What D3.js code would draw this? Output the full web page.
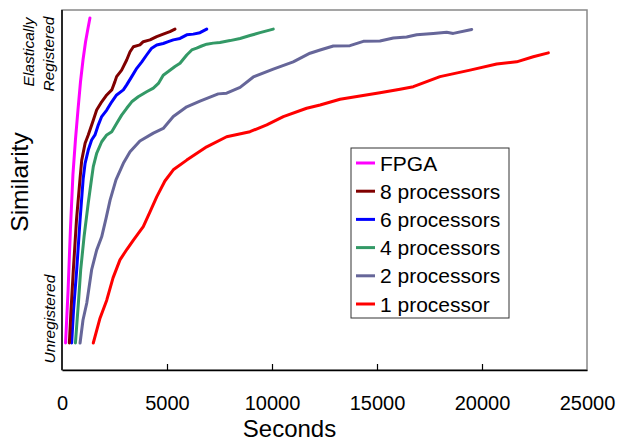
<!DOCTYPE html>
<html>
<head>
<meta charset="utf-8">
<script src="https://cdn.jsdelivr.net/npm/d3@7"></script>
<style>
  body { margin: 0; background: #fff; }
  text { font-family: "Liberation Sans", Arial, sans-serif; fill: #000; }
</style>
</head>
<body>
<svg width="618" height="443"></svg>
<script>
// Data: time in seconds, similarity on a 0-100 scale
let seriesNames = ["FPGA", "8 processors", "6 processors", "4 processors", "2 processors", "1 processor"];
let seriesColors = ["#ff00ff", "#800000", "#0000ff", "#339966", "#666699", "#ff0000"];

let fpgaT = [170, 290, 400, 520, 640, 760, 880, 1000, 1120, 1240, 1330];
let fpgaS = [7.5, 22.2, 38.9, 54.2, 63.9, 72.2, 80.0, 86.1, 91.1, 95.0, 97.8];

let p8T = [350, 430, 540, 690, 860, 940, 1100, 1250, 1490, 1650, 1890, 2130, 2370, 2520, 2600, 2840, 3080, 3240, 3400, 3710, 3870, 4190, 4510, 4820, 5140, 5380];
let p8S = [7.5, 16.7, 27.8, 41.7, 53.2, 58.3, 63.0, 65.3, 69.4, 72.2, 74.5, 76.4, 77.8, 80.1, 81.5, 83.3, 86.1, 88.4, 89.8, 90.3, 91.2, 91.7, 92.6, 93.3, 94.0, 94.7];

let p6T = [460, 550, 700, 860, 1010, 1100, 1250, 1410, 1570, 1730, 1890, 2130, 2370, 2600, 2920, 3080, 3320, 3560, 3800, 4030, 4270, 4510, 4820, 5060, 5300, 5620, 5940, 6250, 6570, 6890];
let p6S = [7.5, 16.7, 27.8, 41.7, 53.2, 57.4, 61.1, 63.9, 65.3, 68.1, 70.4, 72.2, 74.5, 76.4, 77.8, 79.2, 81.5, 83.8, 85.6, 87.5, 89.4, 90.3, 90.7, 91.2, 91.7, 92.1, 93.1, 93.3, 93.7, 94.7];

let p4T = [640, 780, 890, 1050, 1250, 1410, 1490, 1650, 1890, 2130, 2370, 2600, 2840, 3080, 3320, 3630, 4030, 4350, 4590, 4820, 5060, 5380, 5620, 5940, 6180, 6410, 6650, 6890, 7200, 7520, 8000, 8480, 8950, 9430, 10060];
let p4S = [7.5, 18.6, 27.8, 37.0, 46.4, 53.2, 56.5, 60.2, 63.4, 65.3, 66.2, 68.5, 70.8, 72.7, 74.5, 75.9, 77.3, 78.3, 79.6, 81.9, 82.9, 84.3, 85.2, 87.5, 88.9, 89.4, 90.0, 90.5, 90.8, 91.0, 91.5, 92.1, 92.9, 93.7, 94.7];

let p2T = [860, 1000, 1180, 1410, 1650, 1890, 2100, 2290, 2570, 2920, 3240, 3710, 4350, 4820, 5300, 5940, 6570, 7440, 7840, 8480, 9110, 10060, 11010, 11810, 12290, 12920, 13710, 14350, 15140, 15780, 16410, 16890, 17680, 18320, 18630, 19510];
let p2S = [7.5, 13.9, 18.6, 27.8, 33.3, 37.0, 42.2, 47.2, 52.8, 57.4, 60.6, 63.6, 65.8, 67.1, 70.4, 73.1, 74.7, 76.7, 76.9, 78.5, 81.4, 83.6, 85.6, 88.0, 88.9, 90.0, 90.1, 91.3, 91.4, 92.2, 92.5, 93.1, 93.5, 93.8, 93.5, 94.6];

let p1T = [1490, 1810, 2130, 2430, 2760, 3100, 3400, 3870, 4190, 4510, 4900, 5300, 5940, 6890, 7840, 8950, 9750, 10540, 11650, 12290, 13240, 14190, 15140, 16100, 16730, 18000, 19430, 20700, 21650, 22440, 23160];
let p1S = [7.5, 14.4, 19.4, 25.6, 30.6, 33.6, 36.1, 39.8, 43.9, 48.1, 52.5, 55.6, 58.3, 62.0, 64.8, 66.2, 68.1, 70.4, 72.7, 73.6, 75.2, 76.1, 77.0, 78.0, 78.7, 81.5, 83.3, 85.0, 85.6, 87.0, 88.1];

let xTicks = [0, 5000, 10000, 15000, 20000, 25000];

let seriesT = [fpgaT, p8T, p6T, p4T, p2T, p1T];
let seriesS = [fpgaS, p8S, p6S, p4S, p2S, p1S];

let svg = d3.select("svg");

let margin = { top: 10, right: 31, bottom: 73, left: 62 };
let width = +svg.attr("width") - margin.left - margin.right;
let height = +svg.attr("height") - margin.top - margin.bottom;

let g = svg.append("g")
  .attr("transform", "translate(" + margin.left + "," + margin.top + ")");

let x = d3.scaleLinear().domain([0, 25000]).range([0, width]);
let y = d3.scaleLinear().domain([0, 100]).range([height, 0]);

// gray frame (top and right)
g.append("rect")
  .attr("x", 0).attr("y", 0)
  .attr("width", width).attr("height", height)
  .attr("fill", "none")
  .attr("stroke", "#888")
  .attr("stroke-width", 1.5);

// x axis, ticks pointing inward
let xAxis = g.append("g")
  .attr("transform", "translate(0," + height + ")")
  .call(d3.axisBottom(x).tickValues(xTicks).tickSizeInner(-6).tickSizeOuter(0).tickPadding(26).tickFormat(d3.format("d")));
xAxis.select(".domain").attr("stroke", "#000").attr("stroke-width", 1.5);
xAxis.selectAll(".tick line").attr("stroke", "#000").attr("stroke-width", 1.2)
  .filter(d => d === 0 || d === 25000).remove();
xAxis.selectAll(".tick text").style("font-size", "20px").attr("fill", "#000")
  .style("font-family", "'Liberation Sans', Arial, sans-serif");

// y axis: plain line
g.append("line")
  .attr("x1", 0).attr("x2", 0).attr("y1", 0).attr("y2", height)
  .attr("stroke", "#000").attr("stroke-width", 1.5);

// curves
let line = d3.line()
  .x(d => x(d[0]))
  .y(d => y(d[1]));

let series = seriesNames.map((name, i) => ({
  name: name,
  color: seriesColors[i],
  points: seriesT[i].map((t, j) => [t, seriesS[i][j]])
}));

g.selectAll(".curve")
  .data(series.slice().reverse())
  .enter()
  .append("path")
  .attr("class", "curve")
  .attr("d", d => line(d.points))
  .attr("fill", "none")
  .attr("stroke", d => d.color)
  .attr("stroke-width", 3)
  .attr("stroke-linejoin", "round")
  .attr("stroke-linecap", "round");

// axis titles
svg.append("text")
  .attr("x", 289.5).attr("y", 437)
  .attr("text-anchor", "middle")
  .style("font-size", "24px")
  .text("Seconds");

svg.append("text")
  .attr("transform", "translate(28,182) rotate(-90)")
  .attr("text-anchor", "middle")
  .style("font-size", "24.5px")
  .text("Similarity");

// y end labels
let yLabels = [
  { text: "Elastically", x: 34, y: 52 },
  { text: "Registered", x: 54, y: 54 },
  { text: "Unregistered", x: 55, y: 319 }
];
svg.selectAll(".ylab")
  .data(yLabels)
  .enter()
  .append("text")
  .attr("class", "ylab")
  .attr("transform", d => "translate(" + d.x + "," + d.y + ") rotate(-90)")
  .attr("text-anchor", "middle")
  .style("font-size", "15.5px")
  .style("font-style", "italic")
  .text(d => d.text);

// legend
let legend = svg.append("g").attr("transform", "translate(351,148)");
legend.append("rect")
  .attr("width", 158).attr("height", 170)
  .attr("fill", "#fff")
  .attr("stroke", "#333")
  .attr("stroke-width", 1);

let items = legend.selectAll(".item")
  .data(series)
  .enter()
  .append("g")
  .attr("class", "item")
  .attr("transform", (d, i) => "translate(0," + (15 + i * 28.2) + ")");

items.append("line")
  .attr("x1", 5).attr("x2", 24)
  .attr("stroke", d => d.color)
  .attr("stroke-width", 3);

items.append("text")
  .attr("x", 29)
  .attr("dy", "0.36em")
  .style("font-size", "21px")
  .text(d => d.name);
</script>
</body>
</html>
